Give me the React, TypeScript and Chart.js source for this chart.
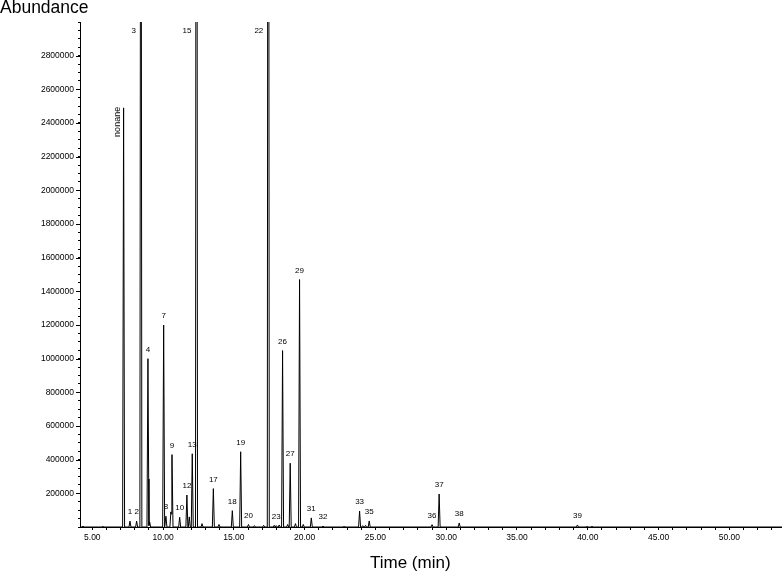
import React, { useEffect, useRef } from 'react';
import { Chart, registerables } from 'chart.js';

Chart.register(...registerables);

// Retention times (min) of the chromatogram peaks
const peakTimes = [
  4.35, 5.75, 7.21, 7.66, 8.13, 8.43, 8.93, 9.05, 10.04, 10.2, 10.55, 10.63, 11.17, 11.68, 11.85,
  12.06, 12.36, 12.75, 13.55, 13.95, 14.89, 15.48, 16.03, 16.45, 17.1, 17.43, 17.85, 17.99, 18.2,
  18.44, 18.8, 18.98, 19.35, 19.64, 19.9, 20.47, 21.3, 22.8, 23.88, 24.1, 24.3, 24.56, 29.0, 29.5,
  30.92, 39.27, 39.95, 40.3,
];
// Peak apex abundances
const peakHeights = [
  6000, 4000, 2490000, 35000, 35000, 6200000, 1000000, 30000, 1200000, 64000, 90000, 430000, 58000,
  190000, 60000, 435000, 9500000, 20000, 228000, 15000, 97000, 447000, 15000, 8000, 10000, 8400000,
  10000, 8000, 12000, 1048000, 15000, 379000, 20000, 1470000, 15000, 54000, 6000, 6000, 95000, 8000,
  10000, 36000, 14000, 196000, 24000, 12000, 4000, 4000,
];
// Peak labels ('' = unlabeled)
const peakLabels = [
  '', '', 'nonane', '1', '2', '3', '4', '', '7', '8', '', '9', '10', '12', '', '13', '15', '', '17',
  '', '18', '19', '20', '', '', '22', '', '23', '', '26', '', '27', '', '29', '', '31', '32', '',
  '33', '', '', '35', '36', '37', '38', '39', '', '',
];

const xMajorTicks = [5, 10, 15, 20, 25, 30, 35, 40, 45, 50];
const yLabelTicks = [
  200000, 400000, 600000, 800000, 1000000, 1200000, 1400000, 1600000, 1800000, 2000000, 2200000,
  2400000, 2600000, 2800000,
];

const X_MIN = 4.13;
const X_MAX = 53.72;
const Y_MAX = 3000000;
const HALF_WIDTH = 0.07;
const FONT = '"Liberation Sans", Arial, sans-serif';

function buildTrace() {
  const xs = new Set<number>([X_MIN, X_MAX]);
  peakTimes.forEach((t) => {
    xs.add(t - HALF_WIDTH);
    xs.add(t);
    xs.add(t + HALF_WIDTH);
  });
  const sorted = Array.from(xs).sort((a, b) => a - b);
  return sorted.map((x) => {
    let y = 0;
    peakTimes.forEach((t, i) => {
      const v = peakHeights[i] * Math.max(0, 1 - Math.abs(x - t) / HALF_WIDTH);
      if (v > y) y = v;
    });
    return { x, y };
  });
}

const labelPlugin = {
  id: 'peakLabels',
  afterDatasetsDraw(chart: any) {
    const { ctx, chartArea, scales } = chart;
    const xs = scales.x;
    const ys = scales.y;
    ctx.save();
    ctx.fillStyle = '#000';
    peakTimes.forEach((t, i) => {
      const label = peakLabels[i];
      if (!label) return;
      const px = xs.getPixelForValue(t);
      const h = peakHeights[i];
      if (label === 'nonane') {
        const py = ys.getPixelForValue(h);
        ctx.save();
        ctx.font = '9px ' + FONT;
        ctx.translate(px - 6, py - 1);
        ctx.rotate(-Math.PI / 2);
        ctx.textAlign = 'right';
        ctx.textBaseline = 'middle';
        ctx.fillText(label, 0, 0);
        ctx.restore();
      } else if (h > ys.max) {
        ctx.font = '8px ' + FONT;
        ctx.textAlign = 'right';
        ctx.textBaseline = 'middle';
        ctx.fillText(label, px - 5, chartArea.top + 9);
      } else {
        ctx.font = '8px ' + FONT;
        ctx.textAlign = 'center';
        ctx.textBaseline = 'middle';
        const py = Math.min(ys.getPixelForValue(h) - 9, chartArea.bottom - 10);
        ctx.fillText(label, px, py);
      }
    });
    // longer marks for the labelled y ticks
    ctx.strokeStyle = '#000';
    ctx.lineWidth = 1;
    ctx.beginPath();
    yLabelTicks.forEach((v) => {
      const py = Math.round(ys.getPixelForValue(v)) + 0.5;
      ctx.moveTo(chartArea.left - 4, py);
      ctx.lineTo(chartArea.left, py);
    });
    ctx.stroke();
    ctx.restore();
  },
  afterDraw(chart: any) {
    const { ctx } = chart;
    ctx.save();
    ctx.fillStyle = '#000';
    ctx.textAlign = 'left';
    ctx.textBaseline = 'alphabetic';
    ctx.font = '17.5px ' + FONT;
    ctx.fillText('Abundance', 0, 13);
    ctx.font = '17px ' + FONT;
    ctx.fillText('Time (min)', 370, 568);
    ctx.restore();
  },
};

export default function App() {
  const canvasRef = useRef<HTMLCanvasElement | null>(null);

  useEffect(() => {
    document.body.style.margin = '0';
    const canvas = canvasRef.current;
    if (!canvas) return;
    const xTicks: number[] = [];
    for (let v = 5; v <= 53; v++) xTicks.push(v);
    const yTicks: number[] = [];
    for (let v = 0; v <= Y_MAX; v += 50000) yTicks.push(v);

    const chart = new Chart(canvas, {
      type: 'line',
      data: {
        datasets: [
          {
            data: buildTrace(),
            borderColor: '#000',
            borderWidth: 1,
            pointRadius: 0,
            tension: 0,
            fill: false,
            clip: 0,
          } as any,
        ],
      },
      options: {
        responsive: false,
        animation: false,
        layout: { padding: { top: 22, right: 0, left: 0, bottom: 0 } },
        plugins: { legend: { display: false }, tooltip: { enabled: false }, title: { display: false } },
        scales: {
          x: {
            type: 'linear',
            min: X_MIN,
            max: X_MAX,
            afterBuildTicks: (scale: any) => {
              scale.ticks = xTicks.map((value) => ({ value }));
            },
            afterFit: (scale: any) => {
              scale.height = 46;
            },
            grid: { drawOnChartArea: false, tickLength: 3, color: '#000', lineWidth: 1 },
            border: { color: '#000', width: 1 },
            ticks: {
              autoSkip: false,
              maxRotation: 0,
              padding: 3,
              color: '#000',
              font: { family: FONT, size: 8.5 },
              callback: (value: any) => (xMajorTicks.includes(Number(value)) ? Number(value).toFixed(2) : ''),
            },
          },
          y: {
            type: 'linear',
            min: 0,
            max: Y_MAX,
            afterBuildTicks: (scale: any) => {
              scale.ticks = yTicks.map((value) => ({ value }));
            },
            afterFit: (scale: any) => {
              scale.width = 80;
            },
            grid: { drawOnChartArea: false, tickLength: 2, color: '#000', lineWidth: 1 },
            border: { color: '#000', width: 1 },
            ticks: {
              autoSkip: false,
              padding: 4,
              color: '#000',
              font: { family: FONT, size: 8.5 },
              callback: (value: any) => (yLabelTicks.includes(Number(value)) ? String(value) : ''),
            },
          },
        },
      },
      plugins: [labelPlugin],
    });
    return () => chart.destroy();
  }, []);

  return (
    <div style={{ width: 782, height: 573, background: '#fff' }}>
      <canvas ref={canvasRef} width={782} height={573} />
    </div>
  );
}
